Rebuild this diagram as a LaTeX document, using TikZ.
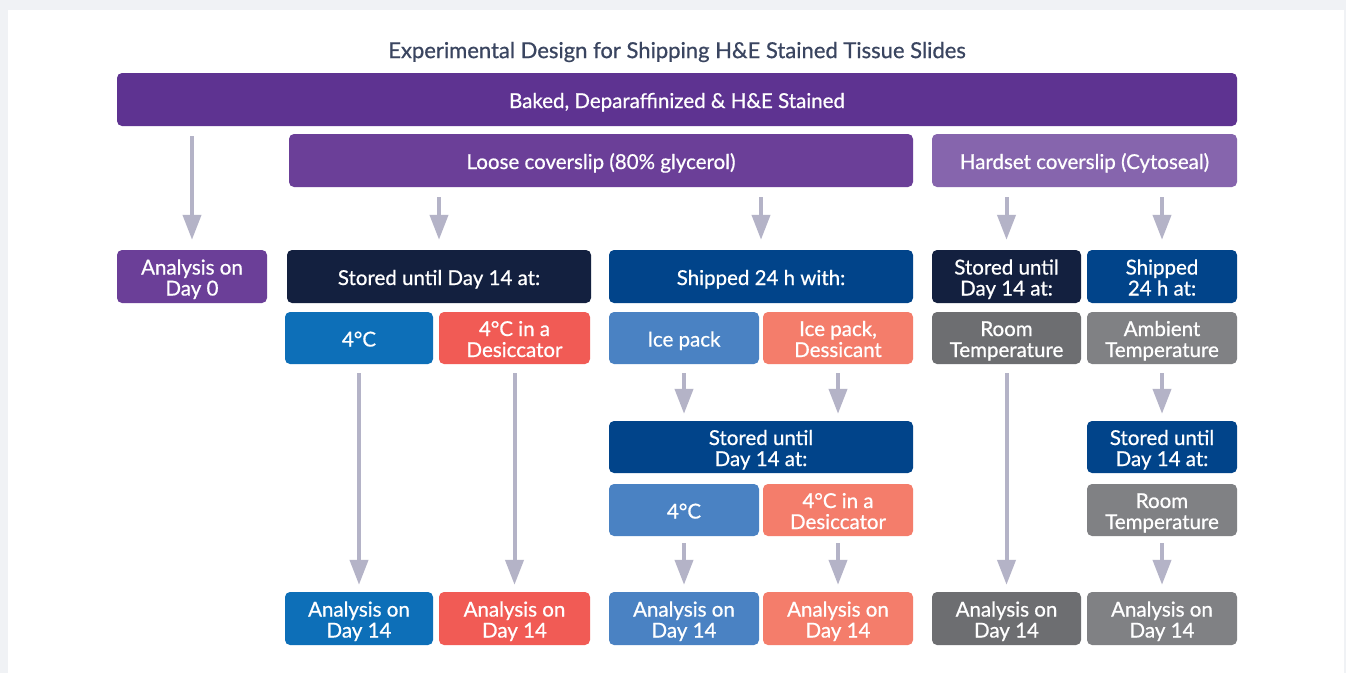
\documentclass[tikz,border=0pt]{standalone}
\usepackage{fontspec}
\setmainfont{Lato}
\newfontfamily\medfont{Lato}[FakeBold=0.7]
\usetikzlibrary{arrows.meta}
\definecolor{framegray}{HTML}{F0F2F5}
\definecolor{titleink}{HTML}{3A4560}
\definecolor{purpleA}{HTML}{5E3391}
\definecolor{purpleB}{HTML}{6B3F98}
\definecolor{purpleC}{HTML}{8665AD}
\definecolor{navy}{HTML}{13203F}
\definecolor{royal}{HTML}{01448A}
\definecolor{blueA}{HTML}{0D6FB8}
\definecolor{redA}{HTML}{F15B55}
\definecolor{blueB}{HTML}{4A82C3}
\definecolor{redB}{HTML}{F47D6B}
\definecolor{grayA}{HTML}{6D6E71}
\definecolor{grayB}{HTML}{808184}
\definecolor{arrowgray}{HTML}{B4B3C7}
% struts that keep the lettering optically centred in the boxes
\newcommand\hiStrut{\rule{0pt}{22pt}}
\newcommand\loStrut{\rule[-5pt]{0pt}{5pt}}
\newcommand\twolines[2]{\hiStrut#1\\#2\loStrut}
\tikzset{
  box/.style={rounded corners=5pt, text=white, align=center, inner sep=0pt,
    font=\medfont\fontsize{20.5}{21}\selectfont},
  arr/.style={draw=arrowgray, line width=4pt,
    -{Triangle[length=25pt,width=18pt]}},
}
\begin{document}
\begin{tikzpicture}[x=1pt,y=-1pt]
  % page frame
  \fill[framegray] (0,0) rectangle (1346,673);
  \fill[white] (8,10) rectangle (1344,673);
  \useasboundingbox (0,0) rectangle (1346,673);

  \node[text=titleink, font=\medfont\fontsize{22}{24}\selectfont] (title) at (677,52)
    {Experimental Design for Shipping H\&E Stained Tissue Slides};

  % header bars
  \node[box, fill=purpleA, minimum width=1120pt, minimum height=53pt] (top) at (677,99.5)
    {\hiStrut Baked, Deparaffinized \& H\&E Stained\loStrut};
  \node[box, fill=purpleB, minimum width=624pt, minimum height=53pt] (loose) at (601,160.5)
    {\hiStrut Loose coverslip (80\% glycerol)\loStrut};
  \node[box, fill=purpleC, minimum width=305pt, minimum height=53pt] (hard) at (1084.5,160.5)
    {\hiStrut Hardset coverslip (Cytoseal)\loStrut};

  % row 1
  \node[box, fill=purpleB, minimum width=150pt, minimum height=53pt] (d0) at (192,276.5)
    {\twolines{Analysis on}{Day 0}};
  \node[box, fill=navy, minimum width=304pt, minimum height=53pt] (sA) at (439,276.5)
    {\hiStrut Stored until Day 14 at:\loStrut};
  \node[box, fill=royal, minimum width=304pt, minimum height=53pt] (shA) at (761,276.5)
    {\hiStrut Shipped 24 h with:\loStrut};
  \node[box, fill=navy, minimum width=149pt, minimum height=53pt] (sB) at (1006.5,276.5)
    {\twolines{Stored until}{Day 14 at:}};
  \node[box, fill=royal, minimum width=150pt, minimum height=53pt] (shB) at (1162,276.5)
    {\twolines{Shipped}{24 h at:}};

  % row 2
  \node[box, fill=blueA, minimum width=148pt, minimum height=52pt] (c1) at (359,338)
    {\hiStrut 4°C\loStrut};
  \node[box, fill=redA, minimum width=151pt, minimum height=52pt] (c2) at (514.5,338)
    {\twolines{4°C in a}{Desiccator}};
  \node[box, fill=blueB, minimum width=150pt, minimum height=52pt] (c3) at (684,338)
    {\hiStrut Ice pack\loStrut};
  \node[box, fill=redB, minimum width=150pt, minimum height=52pt] (c4) at (838,338)
    {\twolines{Ice pack,}{Dessicant}};
  \node[box, fill=grayA, minimum width=149pt, minimum height=52pt] (c5) at (1006.5,338)
    {\twolines{Room}{Temperature}};
  \node[box, fill=grayB, minimum width=150pt, minimum height=52pt] (c6) at (1162,338)
    {\twolines{Ambient}{Temperature}};

  % row 3
  \node[box, fill=royal, minimum width=304pt, minimum height=52pt] (sC) at (761,447)
    {\twolines{Stored until}{Day 14 at:}};
  \node[box, fill=royal, minimum width=150pt, minimum height=52pt] (sD) at (1162,447)
    {\twolines{Stored until}{Day 14 at:}};

  % row 4
  \node[box, fill=blueB, minimum width=150pt, minimum height=52pt] (e1) at (684,510)
    {\hiStrut 4°C\loStrut};
  \node[box, fill=redB, minimum width=150pt, minimum height=52pt] (e2) at (838,510)
    {\twolines{4°C in a}{Desiccator}};
  \node[box, fill=grayB, minimum width=150pt, minimum height=52pt] (e3) at (1162,510)
    {\twolines{Room}{Temperature}};

  % row 5: final analyses
  \node[box, fill=blueA, minimum width=148pt, minimum height=53pt] (f1) at (359,618.5)
    {\twolines{Analysis on}{Day 14}};
  \node[box, fill=redA, minimum width=151pt, minimum height=53pt] (f2) at (514.5,618.5)
    {\twolines{Analysis on}{Day 14}};
  \node[box, fill=blueB, minimum width=150pt, minimum height=53pt] (f3) at (684,618.5)
    {\twolines{Analysis on}{Day 14}};
  \node[box, fill=redB, minimum width=150pt, minimum height=53pt] (f4) at (838,618.5)
    {\twolines{Analysis on}{Day 14}};
  \node[box, fill=grayA, minimum width=149pt, minimum height=53pt] (f5) at (1006.5,618.5)
    {\twolines{Analysis on}{Day 14}};
  \node[box, fill=grayB, minimum width=150pt, minimum height=53pt] (f6) at (1162,618.5)
    {\twolines{Analysis on}{Day 14}};

  % connectors
  \draw[arr, shorten <=10pt, shorten >=10pt] (top.south -| d0.north) -- (d0.north);
  \draw[arr, shorten <=10pt, shorten >=10pt] (loose.south -| sA.north) -- (sA.north);
  \draw[arr, shorten <=10pt, shorten >=10pt] (loose.south -| shA.north) -- (shA.north);
  \draw[arr, shorten <=10pt, shorten >=10pt] (hard.south -| sB.north) -- (sB.north);
  \draw[arr, shorten <=10pt, shorten >=10pt] (hard.south -| shB.north) -- (shB.north);

  \draw[arr, shorten <=9pt, shorten >=7pt] (c1.south) -- (f1.north);
  \draw[arr, shorten <=9pt, shorten >=7pt] (c2.south) -- (f2.north);
  \draw[arr, shorten <=9pt, shorten >=7pt] (c3.south) -- (c3.south |- sC.north);
  \draw[arr, shorten <=9pt, shorten >=7pt] (c4.south) -- (c4.south |- sC.north);
  \draw[arr, shorten <=9pt, shorten >=7pt] (c5.south) -- (f5.north);
  \draw[arr, shorten <=9pt, shorten >=7pt] (c6.south) -- (sD.north);

  \draw[arr, shorten <=7pt, shorten >=7pt] (e1.south) -- (f3.north);
  \draw[arr, shorten <=7pt, shorten >=7pt] (e2.south) -- (f4.north);
  \draw[arr, shorten <=7pt, shorten >=7pt] (e3.south) -- (f6.north);
\end{tikzpicture}
\end{document}
